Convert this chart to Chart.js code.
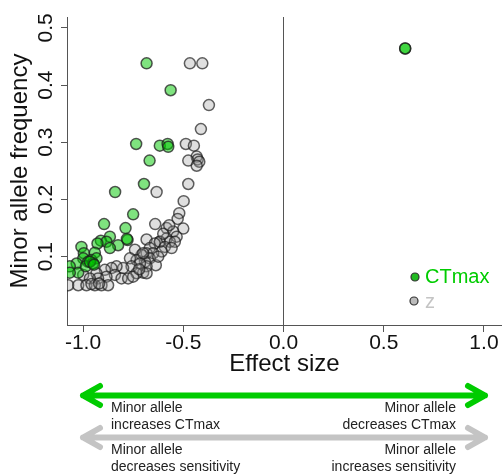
<!DOCTYPE html>
<html>
<head>
<meta charset="utf-8">
<script src="https://cdn.jsdelivr.net/npm/chart.js@4/dist/chart.umd.min.js"></script>
<style>
  body { margin: 0; background: #fff; }
  #wrap { width: 502px; height: 475px; }
</style>
</head>
<body>
<div id="wrap"><canvas id="scatter" width="502" height="475"></canvas></div>
<script>
// data
const ctmaxEffect = [-0.683, -0.563, -0.735, -0.617, -0.578, -0.575, -0.668, -0.696, -0.840, -0.750,
    -0.895, -0.788, -0.778, -0.781, -0.866, -0.911, -0.883, -0.825, -0.866, -0.928,
    -1.008, -0.996, -0.941, -0.999, -0.958, -0.975, -1.032, -0.933, -1.066, -1.024,
    -1.066, -0.986, -0.950, -0.966, -0.945, 0.607, 0.607];
const ctmaxMaf = [0.438, 0.391, 0.297, 0.294, 0.297, 0.292, 0.268, 0.227, 0.213, 0.174,
    0.157, 0.150, 0.129, 0.131, 0.135, 0.128, 0.126, 0.120, 0.115, 0.123,
    0.117, 0.106, 0.107, 0.097, 0.094, 0.091, 0.088, 0.097, 0.083, 0.072,
    0.072, 0.083, 0.088, 0.091, 0.086, 0.464, 0.464];

const zEffect = [-0.467, -0.405, -0.372, -0.412, -0.487, -0.447, -0.433, -0.428, -0.420, -0.475,
    -0.433, -0.475, -0.633, -0.498, -0.520, -0.528, -0.640, -0.500, -0.583, -0.550,
    -0.683, -0.533, -0.617, -0.617, -0.583, -0.567, -0.542, -0.642, -0.592, -0.558,
    -0.667, -0.608, -0.683, -0.650, -0.708, -0.667, -0.691, -0.637, -0.683, -0.700,
    -0.741, -0.733, -0.766, -0.716, -0.758, -0.800, -0.833, -0.858, -0.891, -0.933,
    -0.999, -0.733, -0.683, -0.841, -0.883, -0.925, -0.966, -0.808, -0.775, -1.074,
    -1.024, -0.983, -0.941, -0.908, -0.875, -0.958, -0.920, -0.750, -0.720, -0.700,
    -0.625, -0.600, -0.570];
const zMaf = [0.438, 0.438, 0.365, 0.323, 0.297, 0.294, 0.275, 0.270, 0.266, 0.268,
    0.259, 0.227, 0.213, 0.197, 0.176, 0.166, 0.157, 0.149, 0.150, 0.144,
    0.130, 0.135, 0.126, 0.126, 0.132, 0.126, 0.126, 0.123, 0.117, 0.115,
    0.115, 0.109, 0.106, 0.106, 0.103, 0.097, 0.091, 0.085, 0.083, 0.072,
    0.112, 0.094, 0.097, 0.088, 0.083, 0.080, 0.083, 0.080, 0.077, 0.071,
    0.068, 0.071, 0.071, 0.068, 0.065, 0.062, 0.062, 0.062, 0.062, 0.050,
    0.050, 0.050, 0.050, 0.050, 0.050, 0.052, 0.053, 0.065, 0.078, 0.106,
    0.100, 0.140, 0.155];

const xTicks = [-1.0, -0.5, 0.0, 0.5, 1.0];
const yTicks = [0.1, 0.2, 0.3, 0.4, 0.5];

const fontFamily = '"Liberation Sans", Arial, sans-serif';
const axisColor = '#555';
const green = '#00cc00';
const lightGray = '#c4c4c4';

function toPoints(xs, ys) {
    return xs.map((x, i) => ({ x: x, y: ys[i] }));
}

// y tick labels are drawn rotated, like the R plot
const rotatedYLabels = {
    id: 'rotatedYLabels',
    afterDraw(chart) {
        const ctx = chart.ctx;
        const yScale = chart.scales.y;
        ctx.save();
        ctx.font = '21px ' + fontFamily;
        ctx.fillStyle = '#111';
        ctx.textAlign = 'center';
        ctx.textBaseline = 'middle';
        yScale.ticks.forEach(t => {
            const py = yScale.getPixelForValue(t.value);
            ctx.save();
            ctx.translate(46, py);
            ctx.rotate(-Math.PI / 2);
            ctx.fillText(t.value.toFixed(1), 0, 0);
            ctx.restore();
        });
        ctx.restore();
    }
};

// small legend inside the plot, bottom right
const innerLegend = {
    id: 'innerLegend',
    afterDraw(chart) {
        const ctx = chart.ctx;
        const items = [
            { label: 'CTmax', fill: '#22bb22', text: green, x: 415, y: 277 },
            { label: 'z', fill: '#bbbbbb', text: lightGray, x: 414, y: 301 }
        ];
        ctx.save();
        ctx.font = '20px ' + fontFamily;
        ctx.textBaseline = 'middle';
        ctx.textAlign = 'left';
        items.forEach(it => {
            ctx.beginPath();
            ctx.arc(it.x, it.y, 4, 0, Math.PI * 2);
            ctx.fillStyle = it.fill;
            ctx.fill();
            ctx.lineWidth = 1.2;
            ctx.strokeStyle = '#333';
            ctx.stroke();
            ctx.fillStyle = it.text;
            ctx.fillText(it.label, 425, it.y + (it.label === 'z' ? 1 : 0));
        });
        ctx.restore();
    }
};

// double arrows with their notes under the x axis
const arrowNotes = {
    id: 'arrowNotes',
    afterDraw(chart) {
        const ctx = chart.ctx;
        const rows = [
            { color: green, y: 395.5, left: ['Minor allele', 'increases CTmax'], right: ['Minor allele', 'decreases CTmax'], base: 412 },
            { color: lightGray, y: 437.5, left: ['Minor allele', 'decreases sensitivity'], right: ['Minor allele', 'increases sensitivity'], base: 453.5 }
        ];
        const x0 = 83, x1 = 485;
        ctx.save();
        rows.forEach(r => {
            ctx.strokeStyle = r.color;
            ctx.lineWidth = 6;
            ctx.lineCap = 'round';
            ctx.lineJoin = 'round';
            ctx.beginPath();
            ctx.moveTo(x0, r.y);
            ctx.lineTo(x1, r.y);
            ctx.moveTo(x0 + 17, r.y - 9.5);
            ctx.lineTo(x0, r.y);
            ctx.lineTo(x0 + 17, r.y + 9.5);
            ctx.moveTo(x1 - 17, r.y - 9.5);
            ctx.lineTo(x1, r.y);
            ctx.lineTo(x1 - 17, r.y + 9.5);
            ctx.stroke();

            ctx.font = '14px ' + fontFamily;
            ctx.fillStyle = '#222';
            ctx.textBaseline = 'alphabetic';
            r.left.forEach((s, i) => {
                ctx.textAlign = 'left';
                ctx.fillText(s, 111, r.base + i * 17);
            });
            r.right.forEach((s, i) => {
                ctx.textAlign = 'right';
                ctx.fillText(s, 456, r.base + i * 17);
            });
        });
        ctx.restore();
    }
};

document.addEventListener('DOMContentLoaded', function() {
    const ctx = document.getElementById('scatter').getContext('2d');

    new Chart(ctx, {
        type: 'scatter',
        data: {
            datasets: [
                {
                    label: 'CTmax',
                    data: toPoints(ctmaxEffect, ctmaxMaf),
                    backgroundColor: 'rgba(0, 200, 0, 0.5)',
                    borderColor: 'rgba(30, 30, 30, 0.75)',
                    borderWidth: 1.5,
                    pointRadius: 5.5,
                    order: 0
                },
                {
                    label: 'z',
                    data: toPoints(zEffect, zMaf),
                    backgroundColor: 'rgba(150, 150, 150, 0.3)',
                    borderColor: 'rgba(30, 30, 30, 0.7)',
                    borderWidth: 1.5,
                    pointRadius: 5.5,
                    order: 1
                }
            ]
        },
        options: {
            responsive: false,
            animation: false,
            devicePixelRatio: 1,
            layout: { autoPadding: false, padding: { top: 17, right: 0, bottom: 95, left: 0 } },
            plugins: {
                legend: { display: false },
                tooltip: { enabled: false }
            },
            scales: {
                x: {
                    type: 'linear',
                    min: -1.08,
                    max: 1.09,
                    afterBuildTicks: function(scale) {
                        scale.ticks = xTicks.map(v => ({ value: v }));
                    },
                    afterFit: function(scale) {
                        scale.height = 55;
                        scale.paddingLeft = 0;
                        scale.paddingRight = 0;
                    },
                    ticks: {
                        padding: 1,
                        color: '#111',
                        font: { family: fontFamily, size: 21, lineHeight: 1 },
                        callback: function(v) { return Number(v).toFixed(1); },
                        maxRotation: 0,
                        autoSkip: false
                    },
                    grid: {
                        drawOnChartArea: true,
                        drawTicks: true,
                        tickLength: 7,
                        color: function(c) { return c.tick && c.tick.value === 0 ? axisColor : 'rgba(0,0,0,0)'; },
                        tickColor: axisColor
                    },
                    border: { display: true, color: axisColor, width: 1 },
                    title: {
                        display: true,
                        text: 'Effect size',
                        color: '#111',
                        font: { family: fontFamily, size: 24, lineHeight: 1 },
                        padding: { top: 0, bottom: 4 }
                    }
                },
                y: {
                    type: 'linear',
                    min: -0.0195,
                    max: 0.519,
                    afterBuildTicks: function(scale) {
                        scale.ticks = yTicks.map(v => ({ value: v }));
                    },
                    afterFit: function(scale) {
                        scale.width = 67;
                        scale.paddingTop = 0;
                        scale.paddingBottom = 0;
                    },
                    ticks: { display: false },
                    grid: {
                        drawOnChartArea: false,
                        drawTicks: true,
                        tickLength: 6,
                        color: axisColor
                    },
                    border: { display: true, color: axisColor, width: 1 },
                    title: {
                        display: true,
                        text: 'Minor allele frequency',
                        color: '#111',
                        font: { family: fontFamily, size: 24, lineHeight: 1 },
                        padding: { top: 8, bottom: 0 }
                    }
                }
            }
        },
        plugins: [rotatedYLabels, innerLegend, arrowNotes]
    });
});
</script>
</body>
</html>
